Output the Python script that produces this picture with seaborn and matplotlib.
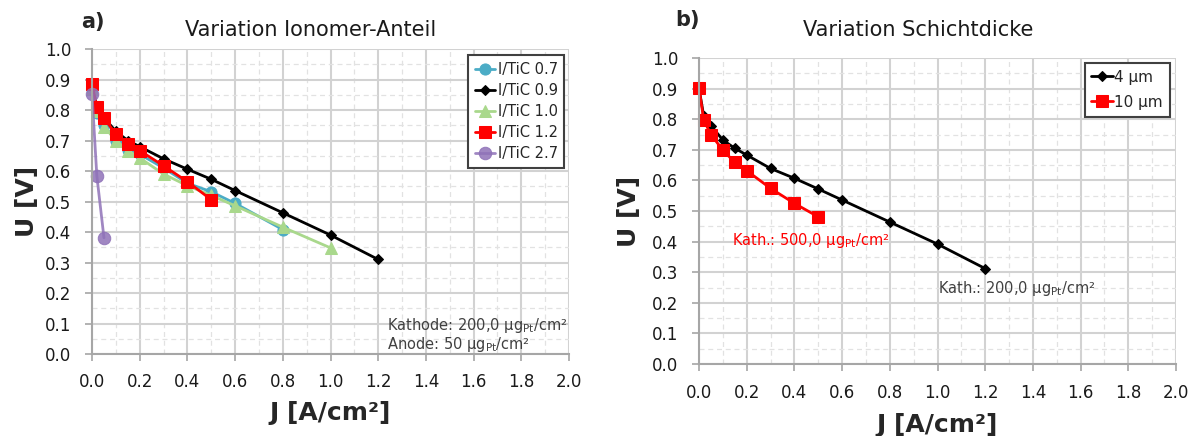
import matplotlib
matplotlib.use("Agg")
import matplotlib.pyplot as plt
from matplotlib.ticker import MultipleLocator
import seaborn as sns

# Current density steps of the polarisation curves [A/cm²]
j_steps = [0, 0.02, 0.05, 0.1, 0.15, 0.2, 0.3, 0.4, 0.5, 0.6, 0.8, 1.0, 1.2]

# a) ionomer-to-TiC ratio
j_07 = j_steps[:11]
u_07 = [0.87, 0.79, 0.75, 0.70, 0.67, 0.655, 0.61, 0.56, 0.532, 0.494, 0.408]
j_09 = j_steps
u_09 = [0.89, 0.81, 0.775, 0.73, 0.70, 0.68, 0.64, 0.606, 0.573, 0.536, 0.463, 0.39, 0.31]
j_10 = j_steps[:12]
u_10 = [0.87, 0.798, 0.746, 0.70, 0.667, 0.643, 0.59, 0.552, 0.52, 0.486, 0.416, 0.348]
j_12 = j_steps[:9]
u_12 = [0.885, 0.81, 0.774, 0.721, 0.69, 0.667, 0.617, 0.565, 0.506]
j_27 = [0, 0.02, 0.05]
u_27 = [0.852, 0.585, 0.381]

labels_a = ["I/TiC 0.7", "I/TiC 0.9", "I/TiC 1.0", "I/TiC 1.2", "I/TiC 2.7"]

# b) catalyst layer thickness
j_4um = j_steps
u_4um = [0.90, 0.81, 0.779, 0.732, 0.705, 0.683, 0.639, 0.607, 0.572, 0.536, 0.464, 0.392, 0.312]
j_10um = j_steps[:9]
u_10um = [0.903, 0.797, 0.75, 0.699, 0.659, 0.632, 0.574, 0.525, 0.481]

labels_b = ["4 µm", "10 µm"]

x_ticks = [0.0, 0.2, 0.4, 0.6, 0.8, 1.0, 1.2, 1.4, 1.6, 1.8, 2.0]
y_ticks = [0.0, 0.1, 0.2, 0.3, 0.4, 0.5, 0.6, 0.7, 0.8, 0.9, 1.0]

sns.set_theme(style="white")
plt.rcParams["font.family"] = ["DejaVu Sans"]
plt.rcParams["mathtext.fontset"] = "dejavusans"

fig = plt.figure(figsize=(12, 4.36), dpi=100)
ax_a = fig.add_axes([0.0767, 0.188, 0.3975, 0.6995])
ax_b = fig.add_axes([0.5825, 0.165, 0.3975, 0.702])

spine_col = "#A6A6A6"


def style_axes(ax, ylab_x, xlab_y):
    ax.set_xlim(0, 2.0)
    ax.set_ylim(0, 1.0)
    ax.set_xticks(x_ticks)
    ax.set_yticks(y_ticks)
    ax.set_xticklabels([f"{v:.1f}" for v in x_ticks])
    ax.set_yticklabels([f"{v:.1f}" for v in y_ticks])
    ax.xaxis.set_minor_locator(MultipleLocator(0.1))
    ax.yaxis.set_minor_locator(MultipleLocator(0.05))
    ax.grid(which="major", color="#D2D2D2", lw=1.5)
    ax.grid(which="minor", color="#E2E2E2", lw=0.9, ls=(0, (4, 3)))
    ax.set_axisbelow(True)
    for s in ("top", "right"):
        ax.spines[s].set_visible(False)
    for s in ("left", "bottom"):
        ax.spines[s].set_color(spine_col)
        ax.spines[s].set_linewidth(1.5)
    ax.tick_params(which="major", direction="out", length=5, width=1.2,
                   color=spine_col, labelsize=12, labelcolor="#1a1a1a",
                   left=True, bottom=True)
    ax.tick_params(axis="y", which="major", pad=10)
    ax.tick_params(axis="x", which="major", pad=9)
    ax.tick_params(which="minor", length=0)
    ax.set_xlabel("J [A/cm²]", fontsize=18, fontweight="bold", va="center")
    ax.set_ylabel("U [V]", fontsize=18, fontweight="bold", va="center")
    ax.xaxis.set_label_coords(0.5, xlab_y)
    ax.yaxis.set_label_coords(ylab_x, 0.5)


# ---- panel a ----
series_a = [
    (j_07, u_07, "#4BACC6", "o", 8, 1.0),
    (j_09, u_09, "#000000", "D", 5.5, 1.0),
    (j_10, u_10, "#A9D88C", "^", 8, 1.0),
    (j_12, u_12, "#FF0000", "s", 9, 1.0),
    (j_27, u_27, "#8F72B8", "o", 9, 0.85),
]
for (jj, uu, col, mk, ms, al), lab in zip(series_a, labels_a):
    sns.lineplot(x=jj, y=uu, ax=ax_a, color=col, marker=mk, markersize=ms,
                 markeredgecolor=col, linewidth=2, label=lab, sort=False,
                 clip_on=False, alpha=al)

style_axes(ax_a, -0.137, -0.193)
leg_a = ax_a.legend(loc="upper right", bbox_to_anchor=(0.99, 0.98),
                    borderaxespad=0, fontsize=10.5, handlelength=1.4,
                    handletextpad=0.15, labelspacing=0.42, fancybox=False,
                    framealpha=1, edgecolor="#404040", borderpad=0.45)
leg_a.get_frame().set_linewidth(1.5)

ax_a.text(1.235, 0.062,
          "Kathode: 200,0 µg$_{\\mathrm{Pt}}$/cm²\nAnode: 50 µg$_{\\mathrm{Pt}}$/cm²",
          fontsize=10.5, color="#404040", ha="left", va="center",
          linespacing=1.0)

fig.text(0.0675, 0.950, "a)", fontsize=15, fontweight="bold", ha="left", va="center")
fig.text(311 / 1200, 0.931, "Variation Ionomer-Anteil", fontsize=15,
         ha="center", va="center", color="#1a1a1a")

# ---- panel b ----
series_b = [
    (j_4um, u_4um, "#000000", "D", 5.5),
    (j_10um, u_10um, "#FF0000", "s", 9),
]
for (jj, uu, col, mk, ms), lab in zip(series_b, labels_b):
    sns.lineplot(x=jj, y=uu, ax=ax_b, color=col, marker=mk, markersize=ms,
                 markeredgecolor=col, linewidth=2, label=lab, sort=False,
                 clip_on=False)

style_axes(ax_b, -0.147, -0.199)
leg_b = ax_b.legend(loc="upper right", bbox_to_anchor=(0.987, 0.984),
                    borderaxespad=0, fontsize=11, handlelength=1.4,
                    handletextpad=0.1, labelspacing=0.65, fancybox=False,
                    framealpha=1, edgecolor="#404040", borderpad=0.45)
leg_b.get_frame().set_linewidth(1.5)

ax_b.text(0.138, 0.405, "Kath.: 500,0 µg$_{\\mathrm{Pt}}$/cm²", fontsize=10.5,
          color="#FF0000", ha="left", va="center")
ax_b.text(1.0, 0.248, "Kath.: 200,0 µg$_{\\mathrm{Pt}}$/cm²", fontsize=10.5,
          color="#404040", ha="left", va="center")

fig.text(0.5625, 0.954, "b)", fontsize=15, fontweight="bold", ha="left", va="center")
fig.text(918 / 1200, 0.931, "Variation Schichtdicke", fontsize=15,
         ha="center", va="center", color="#1a1a1a")

fig.savefig("out.png", dpi=100)
